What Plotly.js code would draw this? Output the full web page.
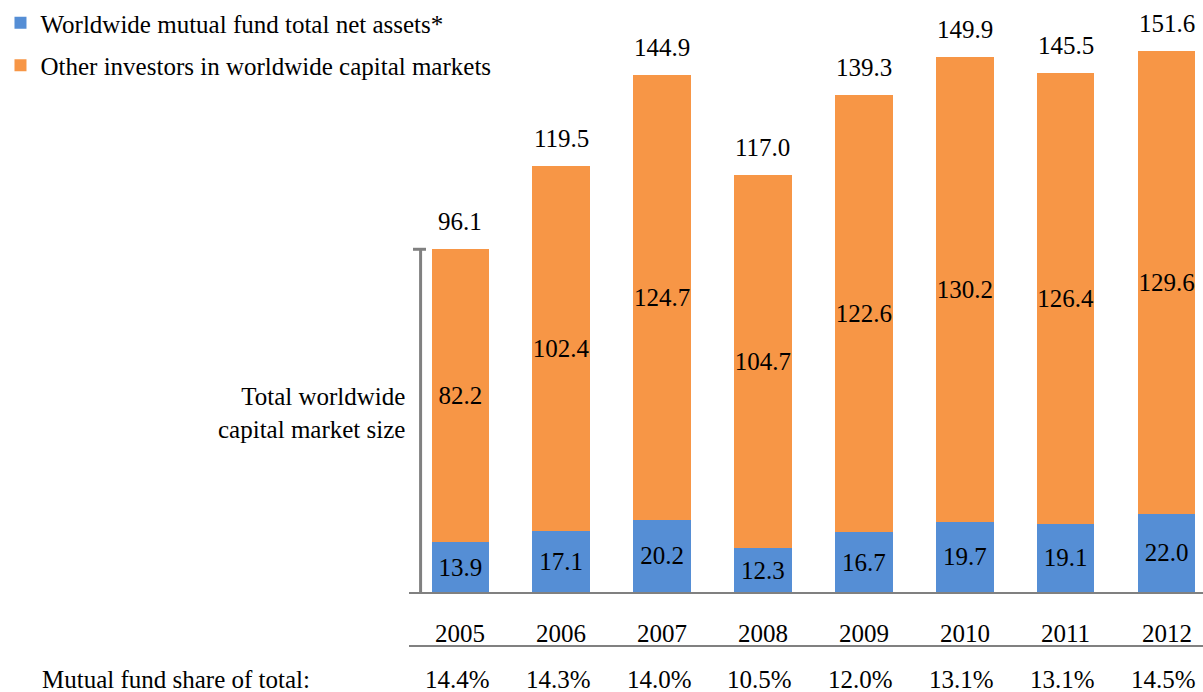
<!DOCTYPE html>
<html>
<head>
<meta charset="utf-8">
<script src="https://cdn.plot.ly/plotly-3.0.1.min.js"></script>
<style>
html,body{margin:0;padding:0;background:#fff;}
#chart{width:1203px;height:692px;}
</style>
</head>
<body>
<div id="chart"></div>
<script>
const years = ['2005','2006','2007','2008','2009','2010','2011','2012'];
const mutualFund = [13.9, 17.1, 20.2, 12.3, 16.7, 19.7, 19.1, 22.0];
const otherInvestors = [82.2, 102.4, 124.7, 104.7, 122.6, 130.2, 126.4, 129.6];
const totals = [96.1, 119.5, 144.9, 117.0, 139.3, 149.9, 145.5, 151.6];
const shareLabels = ['14.4%','14.3%','14.0%','10.5%','12.0%','13.1%','13.1%','14.5%'];
const seriesNames = ['Worldwide mutual fund total net assets*', 'Other investors in worldwide capital markets'];

const FONT = 'Liberation Serif';
const FS = 25;
const GRAY = '#808080';

const traces = [
  {
    type: 'bar', name: seriesNames[0], x: years, y: mutualFund,
    marker: {color: '#558ED5'},
    text: mutualFund.map(v => v.toFixed(1)), textposition: 'inside',
    insidetextanchor: 'middle', textangle: 0, constraintext: 'none',
    textfont: {family: FONT, size: FS, color: '#000'},
    legendgroup: 'a', hoverinfo: 'skip'
  },
  {
    type: 'bar', name: seriesNames[1], x: years, y: otherInvestors,
    marker: {color: '#F79646'},
    text: otherInvestors.map(v => v.toFixed(1)), textposition: 'inside',
    insidetextanchor: 'middle', textangle: 0, constraintext: 'none',
    textfont: {family: FONT, size: FS, color: '#000'},
    legendgroup: 'b', hoverinfo: 'skip'
  }
];

const annotations = [];
years.forEach((yr, i) => {
  // category axis: position by category index
  annotations.push({x: i, y: totals[i], xref: 'x', yref: 'y', text: totals[i].toFixed(1),
    showarrow: false, yanchor: 'bottom', yshift: 12, font: {family: FONT, size: FS, color: '#000'}});
  annotations.push({x: i, y: 0, xref: 'x', yref: 'y', text: yr,
    showarrow: false, yanchor: 'middle', yshift: -41, font: {family: FONT, size: FS, color: '#000'}});
  annotations.push({x: i, y: 0, xref: 'x', yref: 'y', text: shareLabels[i],
    showarrow: false, yanchor: 'middle', yshift: -87, xshift: -3, font: {family: FONT, size: FS, color: '#000'}});
});
annotations.push({x: 0, y: 0, xref: 'paper', yref: 'y', text: 'Mutual fund share of total:',
  showarrow: false, xanchor: 'left', yanchor: 'middle', xshift: -369, yshift: -87,
  font: {family: FONT, size: FS, color: '#000'}});
annotations.push({x: 0, y: 0.3024, xref: 'paper', yref: 'paper', text: 'Total worldwide<br>capital market size',
  showarrow: false, xanchor: 'right', yanchor: 'middle', align: 'right', xshift: -2,
  font: {family: FONT, size: FS, color: '#000'}});

const shapes = [
  // bracket showing total capital market size (2005)
  {type: 'line', xref: 'paper', yref: 'y', x0: 0.0146, x1: 0.0146, y0: 0, y1: totals[0], line: {color: GRAY, width: 3}},
  {type: 'line', xref: 'paper', yref: 'y', x0: 0.005, x1: 0.0214, y0: totals[0], y1: totals[0], line: {color: GRAY, width: 3}},
  // separator line under year labels
  {type: 'line', xref: 'paper', yref: 'paper', x0: 0, x1: 1, y0: -0.0912, y1: -0.0912, line: {color: GRAY, width: 2}}
];

const layout = {
  width: 1203, height: 692,
  margin: {l: 409, r: 0, t: 0, b: 100},
  paper_bgcolor: '#fff', plot_bgcolor: '#fff',
  barmode: 'stack', bargap: 0.43,
  font: {family: FONT, size: FS, color: '#000'},
  xaxis: {type: 'category', range: [-0.508, 7.361], showticklabels: false, ticks: '',
    showgrid: false, zeroline: false, showline: true, linecolor: GRAY, linewidth: 2, fixedrange: true},
  yaxis: {range: [0, 166], visible: false, showgrid: false, zeroline: false, fixedrange: true},
  showlegend: true,
  legend: {x: -0.5145, y: 1, xanchor: 'left', yanchor: 'top', traceorder: 'grouped',
    tracegroupgap: 7, font: {family: FONT, size: FS, color: '#000'}, bgcolor: 'rgba(0,0,0,0)'},
  annotations: annotations,
  shapes: shapes
};

Plotly.newPlot('chart', traces, layout, {displayModeBar: false, staticPlot: true});
</script>
</body>
</html>
